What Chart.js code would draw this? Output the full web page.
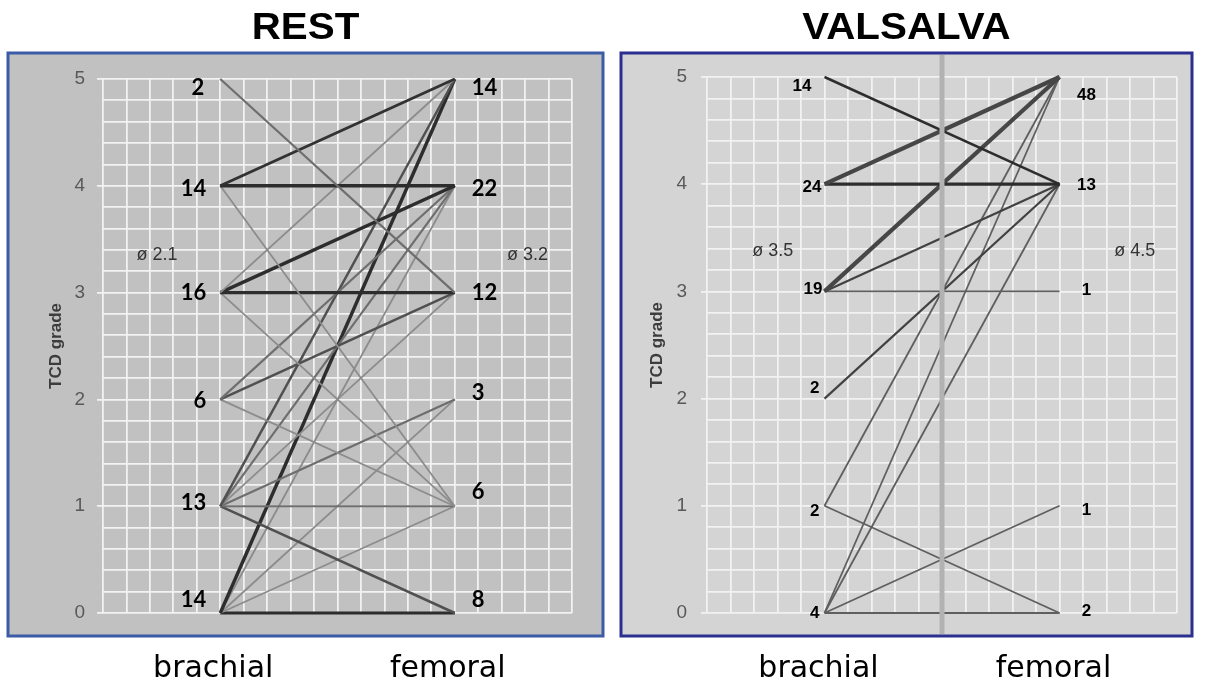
<!DOCTYPE html>
<html>
<head>
<meta charset="utf-8">
<script src="https://cdn.jsdelivr.net/npm/chart.js@4/dist/chart.umd.min.js"></script>
<style>
  html, body { margin: 0; padding: 0; background: #fff; }
  #wrap { position: relative; width: 1215px; height: 690px; }
  canvas { position: absolute; top: 0; }
  #rest { left: 0; }
  #valsalva { left: 612px; }
</style>
</head>
<body>
<div id="wrap">
  <canvas id="rest" width="610" height="690"></canvas>
  <canvas id="valsalva" width="603" height="690"></canvas>
</div>
<script>
// number of patients at each TCD grade 0..5
const grades = [0, 1, 2, 3, 4, 5];
const restBrachialN = [14, 13, 6, 16, 14, 2];
const restFemoralN = [8, 6, 3, 12, 22, 14];
const valsalvaBrachialN = [4, 2, 2, 19, 24, 14];
const valsalvaFemoralN = [2, 1, 0, 1, 13, 48];

// mean grade (brachial, femoral)
const restMeans = [2.1, 3.2];
const valsalvaMeans = [3.5, 4.5];

// brachial grade -> femoral grade, patients per line
const restFrom  = [5, 4, 4, 4, 3, 3, 3, 3, 2, 2, 2, 1, 1, 1, 1, 1, 1, 0, 0, 0, 0, 0];
const restTo    = [3, 5, 4, 1, 5, 4, 3, 1, 4, 3, 1, 5, 4, 3, 2, 1, 0, 5, 4, 2, 1, 0];
const restCount = [2, 4, 9, 1, 1, 8, 6, 1, 2, 3, 1, 3, 2, 1, 2, 2, 3, 6, 1, 1, 1, 5];

const valsalvaFrom  = [5, 4, 4, 3, 3, 3, 2, 1, 1, 0, 0, 0, 0];
const valsalvaTo    = [4, 5, 4, 5, 4, 3, 4, 5, 0, 5, 4, 1, 0];
const valsalvaCount = [3, 19, 5, 16, 2, 1, 2, 1, 1, 1, 1, 1, 1];

// x positions of the two sites on a 0..20 grid
const siteX = [5, 15];
const siteNames = ['brachial', 'femoral'];

function buildDatasets(from, to, count, base) {
  const out = [];
  from.forEach((f, i) => {
    const n = count[i];
    const g = Math.max(45, base - 30 * (n - 1));
    const w = Math.min(1.8 + 0.35 * (n - 1), 3.4);
    const pts = [{ x: siteX[0], y: f }, { x: siteX[1], y: to[i] }];
    const common = { showLine: true, pointRadius: 0, clip: false };
    if (n >= 10) {
      // many patients: wide line with a light core
      out.push(Object.assign({ data: pts, borderColor: 'rgb(70,70,70)', borderWidth: 4.2 }, common));
      out.push(Object.assign({ data: pts, borderColor: 'rgb(200,200,200)', borderWidth: 1.6 }, common));
    } else {
      out.push(Object.assign({ data: pts, borderColor: 'rgb(' + g + ',' + g + ',' + g + ')', borderWidth: w }, common));
    }
  });
  return out;
}

const isInt = v => Math.abs(v - Math.round(v)) < 1e-6;

const panelPlugin = {
  id: 'panel',
  beforeDraw(chart, args, o) {
    const { ctx, chartArea: a } = chart;
    ctx.save();
    const x0 = a.left - o.box[0], y0 = a.top - o.box[1];
    const x1 = a.right + o.box[2], y1 = a.bottom + o.box[3];
    ctx.fillStyle = o.bg;
    ctx.fillRect(x0, y0, x1 - x0, y1 - y0);
    ctx.strokeStyle = o.border;
    ctx.lineWidth = 3;
    ctx.strokeRect(x0, y0, x1 - x0, y1 - y0);
    // title
    ctx.fillStyle = '#000';
    ctx.font = 'bold 36px "Liberation Sans", Arial, sans-serif';
    ctx.textAlign = 'center';
    ctx.textBaseline = 'alphabetic';
    ctx.translate((x0 + x1) / 2, 39);
    ctx.scale(1.12, 1);
    ctx.fillText(o.title, 0, 0);
    ctx.restore();
  },
  afterDatasetsDraw(chart, args, o) {
    const { ctx, chartArea: a, scales: { x, y } } = chart;
    ctx.save();
    if (o.divider !== undefined) {
      const dx = x.getPixelForValue(o.divider);
      ctx.strokeStyle = '#b2b2b2';
      ctx.lineWidth = 5;
      ctx.beginPath();
      ctx.moveTo(dx, a.top - o.box[1] + 2);
      ctx.lineTo(dx, a.bottom + o.box[3] - 2);
      ctx.stroke();
    }
    ctx.fillStyle = '#000';
    ctx.font = o.countFont;
    ctx.textBaseline = 'middle';
    const bx = x.getPixelForValue(siteX[0]);
    const fx = x.getPixelForValue(siteX[1]);
    grades.forEach((g, i) => {
      const py = y.getPixelForValue(g);
      if (o.left[i] > 0) {
        ctx.textAlign = 'right';
        ctx.fillText(String(o.left[i]), bx - o.leftGap[i], py + o.leftDy[i]);
      }
      if (o.right[i] > 0) {
        ctx.textAlign = o.rightAlign;
        ctx.fillText(String(o.right[i]), fx + o.rightGap, py + o.rightDy[i]);
      }
    });
    ctx.fillStyle = '#333';
    ctx.font = '18px "Liberation Sans", Arial, sans-serif';
    ctx.textAlign = 'center';
    ctx.fillText('\u00f8 ' + o.means[0].toFixed(1), x.getPixelForValue(o.meanX[0]), y.getPixelForValue(o.meanY));
    ctx.fillText('\u00f8 ' + o.means[1].toFixed(1), x.getPixelForValue(o.meanX[1]), y.getPixelForValue(o.meanY));
    ctx.restore();
  }
};

function makeChart(id, datasets, pad, yWidth, titlePad, tickPad, labelShift, panel) {
  return new Chart(document.getElementById(id), {
    type: 'scatter',
    data: { datasets: datasets },
    plugins: [panelPlugin],
    options: {
      responsive: false,
      animation: false,
      devicePixelRatio: 1,
      layout: { padding: pad },
      plugins: { legend: { display: false }, tooltip: { enabled: false }, panel: panel },
      scales: {
        x: {
          type: 'linear', min: 0, max: 20,
          border: { display: false },
          grid: { color: '#f2f2f2', lineWidth: 1.8, drawTicks: false },
          ticks: {
            stepSize: 1, autoSkip: false, maxRotation: 0, padding: 38,
            labelOffset: labelShift,
            color: '#000',
            font: { family: '"DejaVu Sans", sans-serif', size: 30 },
            callback: v => v === siteX[0] ? siteNames[0] : (v === siteX[1] ? siteNames[1] : '')
          },
          afterFit: s => { s.height = 77; }
        },
        y: {
          min: 0, max: 5,
          border: { display: false },
          grid: {
            color: '#f2f2f2', lineWidth: 1.8, tickLength: 6,
            tickColor: c => isInt(c.tick.value) ? '#f2f2f2' : 'rgba(0,0,0,0)'
          },
          ticks: {
            stepSize: 0.2, autoSkip: false, padding: tickPad,
            color: '#595959',
            font: { family: '"Liberation Sans", Arial, sans-serif', size: 19 },
            callback: v => isInt(v) ? String(Math.round(v)) : ''
          },
          title: {
            display: true, text: 'TCD grade', color: '#3c3c3c',
            font: { family: '"Liberation Sans", Arial, sans-serif', size: 17, weight: 'bold' },
            padding: { top: titlePad, bottom: 0 }
          },
          afterFit: s => { s.width = yWidth; }
        }
      }
    }
  });
}

makeChart('rest', buildDatasets(restFrom, restTo, restCount, 140),
  { top: 79, right: 38, left: 0, bottom: 0 }, 103, 46, 12, -7, {
    title: 'REST', bg: '#c1c1c1', border: '#3b5ba6', box: [95, 26, 31, 23],
    countFont: 'bold 22px Lato, "Open Sans", sans-serif',
    left: restBrachialN, right: restFemoralN,
    leftGap: [14, 14, 14, 14, 14, 16], leftDy: [-13, -3, 2, 0, 3, 9],
    rightGap: 17, rightAlign: 'left', rightDy: [-13, -14, -6, 0, 3, 9],
    means: restMeans, meanX: [2.3, 18.1], meanY: 3.35
  });

makeChart('valsalva', buildDatasets(valsalvaFrom, valsalvaTo, valsalvaCount, 95),
  { top: 77, right: 17, left: 0, bottom: 0 }, 95, 35, 14, -6, {
    title: 'VALSALVA', bg: '#d4d4d4', border: '#2b2f8f', box: [86, 24, 15, 23],
    countFont: 'bold 17px "Liberation Sans", Arial, sans-serif',
    left: valsalvaBrachialN, right: valsalvaFemoralN,
    leftGap: [5, 5, 5, 2, 3, 13], leftDy: [0, 6, -10, -2, 3, 9],
    rightGap: 27, rightAlign: 'center', rightDy: [-2, 5, 0, -1, 1, 18],
    means: valsalvaMeans, meanX: [2.8, 18.2], meanY: 3.38, divider: 10
  });
</script>
</body>
</html>
